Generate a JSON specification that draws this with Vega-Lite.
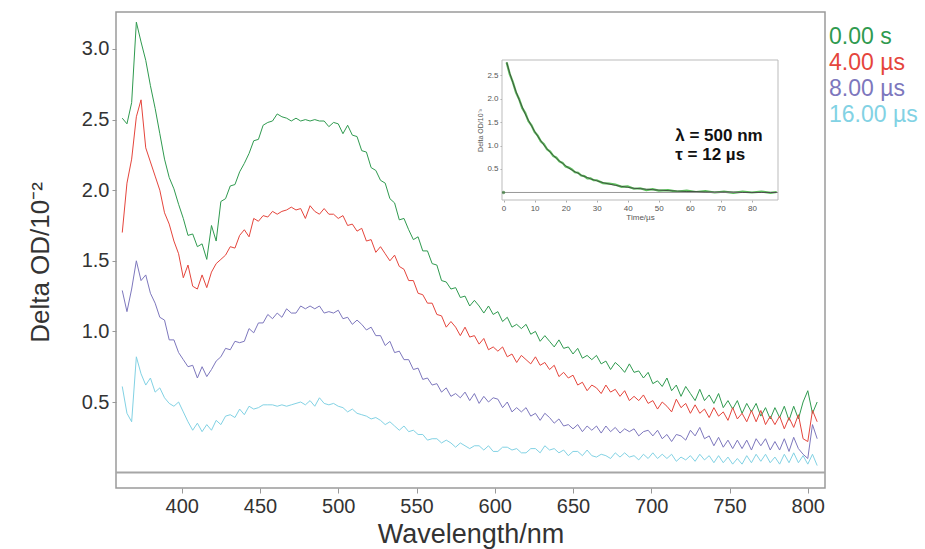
{
 "$schema": "https://vega.github.io/schema/vega-lite/v6.json",
 "width": 709, "height": 476,
 "autosize": {"type": "none"},
 "padding": {"left": 116, "top": 12, "right": 100, "bottom": 61},
 "background": "white",
 "config": {"view": {"stroke": "#9a9a9a", "strokeWidth": 1.5}, "font": "Liberation Sans"},
 "datasets": {
  "spectra": [
{"w":362,"g":2.51,"r":1.70,"p":1.29,"c":0.61},{"w":365,"g":2.47,"r":2.05,"p":1.14,"c":0.42},{"w":368,"g":2.62,"r":2.22,"p":1.30,"c":0.36},{"w":371,"g":3.19,"r":2.52,"p":1.50,"c":0.82},{"w":374,"g":3.05,"r":2.64,"p":1.36,"c":0.70},{"w":377,"g":2.92,"r":2.30,"p":1.40,"c":0.62},{"w":380,"g":2.74,"r":2.20,"p":1.27,"c":0.67},{"w":383,"g":2.58,"r":2.10,"p":1.20,"c":0.57},{"w":386,"g":2.40,"r":2.00,"p":1.10,"c":0.60},{"w":389,"g":2.22,"r":1.84,"p":1.08,"c":0.53},{"w":392,"g":2.09,"r":1.76,"p":0.94,"c":0.49},{"w":395,"g":2.01,"r":1.64,"p":0.94,"c":0.47},{"w":398,"g":1.90,"r":1.55,"p":0.85,"c":0.50},{"w":401,"g":1.80,"r":1.38,"p":0.80,"c":0.43},{"w":404,"g":1.68,"r":1.47,"p":0.75,"c":0.36},{"w":407,"g":1.69,"r":1.32,"p":0.76,"c":0.30},{"w":410,"g":1.60,"r":1.30,"p":0.67,"c":0.35},{"w":413,"g":1.62,"r":1.40,"p":0.75,"c":0.29},{"w":416,"g":1.51,"r":1.31,"p":0.68,"c":0.34},{"w":419,"g":1.75,"r":1.42,"p":0.73,"c":0.30},{"w":422,"g":1.64,"r":1.48,"p":0.79,"c":0.37},{"w":425,"g":1.92,"r":1.51,"p":0.82,"c":0.34},{"w":428,"g":1.94,"r":1.54,"p":0.88,"c":0.40},{"w":431,"g":2.03,"r":1.60,"p":0.87,"c":0.41},{"w":434,"g":2.04,"r":1.59,"p":0.93,"c":0.39},{"w":437,"g":2.13,"r":1.68,"p":0.92,"c":0.45},{"w":440,"g":2.19,"r":1.72,"p":0.93,"c":0.41},{"w":443,"g":2.26,"r":1.67,"p":1.02,"c":0.47},{"w":446,"g":2.35,"r":1.80,"p":0.99,"c":0.45},{"w":449,"g":2.36,"r":1.78,"p":1.06,"c":0.46},{"w":452,"g":2.46,"r":1.82,"p":1.06,"c":0.48},{"w":455,"g":2.48,"r":1.81,"p":1.12,"c":0.48},{"w":458,"g":2.49,"r":1.85,"p":1.09,"c":0.48},{"w":461,"g":2.54,"r":1.83,"p":1.13,"c":0.47},{"w":464,"g":2.52,"r":1.85,"p":1.10,"c":0.48},{"w":467,"g":2.51,"r":1.86,"p":1.16,"c":0.47},{"w":470,"g":2.49,"r":1.88,"p":1.13,"c":0.48},{"w":473,"g":2.51,"r":1.86,"p":1.13,"c":0.49},{"w":476,"g":2.49,"r":1.87,"p":1.18,"c":0.50},{"w":479,"g":2.50,"r":1.80,"p":1.16,"c":0.48},{"w":482,"g":2.49,"r":1.89,"p":1.18,"c":0.51},{"w":485,"g":2.50,"r":1.85,"p":1.16,"c":0.47},{"w":488,"g":2.49,"r":1.83,"p":1.18,"c":0.53},{"w":491,"g":2.49,"r":1.87,"p":1.13,"c":0.49},{"w":494,"g":2.45,"r":1.83,"p":1.14,"c":0.48},{"w":497,"g":2.48,"r":1.83,"p":1.13,"c":0.49},{"w":500,"g":2.47,"r":1.80,"p":1.15,"c":0.47},{"w":503,"g":2.40,"r":1.82,"p":1.09,"c":0.46},{"w":506,"g":2.46,"r":1.75,"p":1.10,"c":0.43},{"w":509,"g":2.39,"r":1.76,"p":1.05,"c":0.45},{"w":512,"g":2.38,"r":1.71,"p":1.08,"c":0.42},{"w":515,"g":2.28,"r":1.73,"p":1.05,"c":0.41},{"w":518,"g":2.27,"r":1.64,"p":1.01,"c":0.40},{"w":521,"g":2.16,"r":1.65,"p":1.03,"c":0.38},{"w":524,"g":2.14,"r":1.56,"p":0.97,"c":0.39},{"w":527,"g":2.07,"r":1.60,"p":0.97,"c":0.37},{"w":530,"g":2.05,"r":1.55,"p":0.90,"c":0.34},{"w":533,"g":1.94,"r":1.50,"p":0.93,"c":0.36},{"w":536,"g":1.91,"r":1.54,"p":0.85,"c":0.33},{"w":539,"g":1.79,"r":1.46,"p":0.86,"c":0.30},{"w":542,"g":1.80,"r":1.44,"p":0.80,"c":0.33},{"w":545,"g":1.72,"r":1.36,"p":0.80,"c":0.29},{"w":548,"g":1.65,"r":1.36,"p":0.73,"c":0.30},{"w":551,"g":1.67,"r":1.27,"p":0.74,"c":0.27},{"w":554,"g":1.57,"r":1.26,"p":0.66,"c":0.27},{"w":557,"g":1.57,"r":1.20,"p":0.67,"c":0.23},{"w":560,"g":1.48,"r":1.20,"p":0.62,"c":0.24},{"w":563,"g":1.47,"r":1.12,"p":0.63,"c":0.24},{"w":566,"g":1.36,"r":1.11,"p":0.57,"c":0.21},{"w":569,"g":1.35,"r":1.03,"p":0.60,"c":0.23},{"w":572,"g":1.30,"r":1.07,"p":0.54,"c":0.21},{"w":575,"g":1.31,"r":1.03,"p":0.56,"c":0.18},{"w":578,"g":1.24,"r":0.97,"p":0.53,"c":0.21},{"w":581,"g":1.25,"r":1.03,"p":0.57,"c":0.19},{"w":584,"g":1.18,"r":0.96,"p":0.51,"c":0.17},{"w":587,"g":1.22,"r":0.97,"p":0.56,"c":0.19},{"w":590,"g":1.18,"r":0.91,"p":0.49,"c":0.19},{"w":593,"g":1.13,"r":0.95,"p":0.54,"c":0.16},{"w":596,"g":1.18,"r":0.87,"p":0.50,"c":0.19},{"w":599,"g":1.12,"r":0.89,"p":0.53,"c":0.15},{"w":602,"g":1.14,"r":0.86,"p":0.52,"c":0.15},{"w":605,"g":1.07,"r":0.89,"p":0.46,"c":0.18},{"w":608,"g":1.10,"r":0.82,"p":0.50,"c":0.18},{"w":611,"g":1.03,"r":0.84,"p":0.43,"c":0.16},{"w":614,"g":1.05,"r":0.78,"p":0.46,"c":0.17},{"w":617,"g":1.02,"r":0.83,"p":0.43,"c":0.14},{"w":620,"g":1.05,"r":0.80,"p":0.46,"c":0.14},{"w":623,"g":0.98,"r":0.77,"p":0.40,"c":0.17},{"w":626,"g":1.00,"r":0.82,"p":0.42,"c":0.17},{"w":629,"g":0.93,"r":0.76,"p":0.37,"c":0.14},{"w":632,"g":0.97,"r":0.78,"p":0.42,"c":0.19},{"w":635,"g":0.93,"r":0.73,"p":0.39,"c":0.16},{"w":638,"g":0.89,"r":0.76,"p":0.35,"c":0.17},{"w":641,"g":0.94,"r":0.68,"p":0.38,"c":0.14},{"w":644,"g":0.88,"r":0.71,"p":0.33,"c":0.16},{"w":647,"g":0.89,"r":0.67,"p":0.34,"c":0.12},{"w":650,"g":0.84,"r":0.69,"p":0.31,"c":0.15},{"w":653,"g":0.88,"r":0.62,"p":0.34,"c":0.15},{"w":656,"g":0.81,"r":0.64,"p":0.29,"c":0.12},{"w":659,"g":0.83,"r":0.58,"p":0.33,"c":0.16},{"w":662,"g":0.80,"r":0.62,"p":0.30,"c":0.12},{"w":665,"g":0.83,"r":0.60,"p":0.33,"c":0.11},{"w":668,"g":0.77,"r":0.56,"p":0.28,"c":0.13},{"w":671,"g":0.79,"r":0.62,"p":0.33,"c":0.12},{"w":674,"g":0.73,"r":0.57,"p":0.29,"c":0.10},{"w":677,"g":0.78,"r":0.59,"p":0.32,"c":0.14},{"w":680,"g":0.75,"r":0.54,"p":0.28,"c":0.11},{"w":683,"g":0.71,"r":0.58,"p":0.31,"c":0.14},{"w":686,"g":0.77,"r":0.51,"p":0.29,"c":0.11},{"w":689,"g":0.71,"r":0.54,"p":0.31,"c":0.12},{"w":692,"g":0.72,"r":0.51,"p":0.26,"c":0.09},{"w":695,"g":0.67,"r":0.55,"p":0.29,"c":0.13},{"w":698,"g":0.71,"r":0.49,"p":0.30,"c":0.10},{"w":701,"g":0.63,"r":0.51,"p":0.26,"c":0.14},{"w":704,"g":0.65,"r":0.45,"p":0.30,"c":0.10},{"w":707,"g":0.61,"r":0.50,"p":0.24,"c":0.13},{"w":710,"g":0.67,"r":0.47,"p":0.27,"c":0.10},{"w":713,"g":0.58,"r":0.43,"p":0.22,"c":0.13},{"w":716,"g":0.62,"r":0.52,"p":0.27,"c":0.08},{"w":719,"g":0.54,"r":0.46,"p":0.26,"c":0.11},{"w":722,"g":0.61,"r":0.49,"p":0.23,"c":0.09},{"w":725,"g":0.56,"r":0.42,"p":0.30,"c":0.12},{"w":728,"g":0.51,"r":0.48,"p":0.26,"c":0.08},{"w":731,"g":0.59,"r":0.42,"p":0.32,"c":0.13},{"w":734,"g":0.51,"r":0.45,"p":0.24,"c":0.09},{"w":737,"g":0.55,"r":0.39,"p":0.26,"c":0.12},{"w":740,"g":0.49,"r":0.46,"p":0.19,"c":0.07},{"w":743,"g":0.56,"r":0.40,"p":0.25,"c":0.12},{"w":746,"g":0.46,"r":0.43,"p":0.18,"c":0.07},{"w":749,"g":0.51,"r":0.37,"p":0.23,"c":0.11},{"w":752,"g":0.45,"r":0.46,"p":0.17,"c":0.06},{"w":755,"g":0.51,"r":0.38,"p":0.23,"c":0.10},{"w":758,"g":0.42,"r":0.42,"p":0.17,"c":0.06},{"w":761,"g":0.49,"r":0.36,"p":0.23,"c":0.12},{"w":764,"g":0.43,"r":0.44,"p":0.16,"c":0.07},{"w":767,"g":0.49,"r":0.36,"p":0.24,"c":0.13},{"w":770,"g":0.40,"r":0.44,"p":0.19,"c":0.08},{"w":773,"g":0.46,"r":0.34,"p":0.24,"c":0.13},{"w":776,"g":0.38,"r":0.40,"p":0.16,"c":0.07},{"w":779,"g":0.46,"r":0.34,"p":0.22,"c":0.11},{"w":782,"g":0.39,"r":0.40,"p":0.16,"c":0.06},{"w":785,"g":0.47,"r":0.31,"p":0.24,"c":0.13},{"w":788,"g":0.37,"r":0.39,"p":0.15,"c":0.07},{"w":791,"g":0.47,"r":0.32,"p":0.25,"c":0.14},{"w":794,"g":0.38,"r":0.41,"p":0.17,"c":0.07},{"w":797,"g":0.50,"r":0.24,"p":0.13,"c":0.12},{"w":800,"g":0.58,"r":0.22,"p":0.10,"c":0.06},{"w":803,"g":0.42,"r":0.44,"p":0.34,"c":0.13},{"w":806,"g":0.50,"r":0.36,"p":0.24,"c":0.05}
  ],
  "decay": [
{"t":0,"m":0},{"t":1,"d":2.77,"f":2.77},{"t":2,"d":2.52,"f":2.54},{"t":3,"d":2.35,"f":2.34},{"t":4,"d":2.13,"f":2.15},{"t":5,"d":1.99,"f":1.98},{"t":6,"d":1.80,"f":1.82},{"t":7,"d":1.69,"f":1.67},{"t":8,"d":1.52,"f":1.54},{"t":9,"d":1.43,"f":1.42},{"t":10,"d":1.29,"f":1.30},{"t":11,"d":1.21,"f":1.20},{"t":12,"d":1.09,"f":1.10},{"t":13,"d":1.03,"f":1.01},{"t":14,"d":0.92,"f":0.93},{"t":15,"d":0.87,"f":0.86},{"t":16,"d":0.78,"f":0.79},{"t":17,"d":0.74,"f":0.73},{"t":18,"d":0.66,"f":0.67},{"t":19,"d":0.63,"f":0.62},{"t":20,"d":0.55,"f":0.57},{"t":21,"d":0.53,"f":0.52},{"t":22,"d":0.49,"f":0.48},{"t":23,"d":0.43,"f":0.44},{"t":24,"d":0.42,"f":0.41},{"t":25,"d":0.36,"f":0.37},{"t":26,"d":0.35,"f":0.34},{"t":27,"d":0.30,"f":0.32},{"t":28,"d":0.30,"f":0.29},{"t":29,"d":0.26,"f":0.27},{"t":30,"d":0.26,"f":0.25},{"t":32,"d":0.20,"f":0.21},{"t":34,"d":0.19,"f":0.18},{"t":36,"d":0.17,"f":0.15},{"t":38,"d":0.12,"f":0.13},{"t":40,"d":0.13,"f":0.11},{"t":42,"d":0.08,"f":0.09},{"t":44,"d":0.09,"f":0.08},{"t":46,"d":0.05,"f":0.07},{"t":48,"d":0.07,"f":0.06},{"t":50,"d":0.04,"f":0.05},{"t":53,"d":0.05,"f":0.04},{"t":56,"d":0.02,"f":0.03},{"t":59,"d":0.04,"f":0.02},{"t":62,"d":0.01,"f":0.02},{"t":65,"d":0.03,"f":0.01},{"t":68,"d":0.00,"f":0.01},{"t":71,"d":0.02,"f":0.01},{"t":74,"d":-0.01,"f":0.01},{"t":77,"d":0.02,"f":0.00},{"t":80,"d":0.00,"f":0.00},{"t":83,"d":0.02,"f":0.00},{"t":86,"d":-0.01,"f":0.00},{"t":88,"d":0.01,"f":0.00}
  ]
 },
 "layer": [
  {
   "layer": [
    {
     "data": {"name": "spectra"},
     "transform": [{"fold": ["g", "r", "p", "c"], "as": ["k", "v"]}],
     "mark": {"type": "line", "strokeWidth": 1},
     "encoding": {
      "x": {"field": "w", "type": "quantitative",
       "scale": {"domain": [358, 811], "nice": false, "zero": false},
       "axis": {"values": [400, 450, 500, 550, 600, 650, 700, 750, 800], "title": "Wavelength/nm",
        "labelFontSize": 20, "titleFontSize": 27, "titleFontWeight": "normal", "labelColor": "#333", "titleColor": "#333",
        "tickColor": "#999", "tickSize": 5, "domain": false, "grid": false, "labelPadding": 3, "titlePadding": 5, "labelFlush": false}},
      "y": {"field": "v", "type": "quantitative",
       "scale": {"domain": [-0.109, 3.262], "nice": false, "zero": false},
       "axis": {"values": [0.5, 1, 1.5, 2, 2.5, 3], "format": ".1f", "title": "Delta OD/10⁻²",
        "labelFontSize": 20, "titleFontSize": 26, "titleFontWeight": "normal", "labelColor": "#333", "titleColor": "#333",
        "tickColor": "#999", "tickSize": 4, "domain": false, "grid": false, "labelPadding": 3, "titlePadding": 28, "titleY": 250}},
      "color": {"field": "k", "type": "nominal",
       "scale": {"domain": ["g", "r", "p", "c"], "range": ["#2f9a4f", "#e5453c", "#7d77bd", "#82d2e4"]},
       "legend": {"orient": "none", "legendX": 690, "legendY": 13, "title": null, "labelFontSize": 23,
        "symbolSize": 0, "symbolOpacity": 0, "symbolStrokeWidth": 0, "labelOffset": 0, "rowPadding": 2,
        "labelExpr": "{'g': '0.00 s', 'r': '4.00 µs', 'p': '8.00 µs', 'c': '16.00 µs'}[datum.label]",
        "encode": {"labels": {"update": {"fill": {"scale": "color", "field": "value"}}}}}}
     }
    },
    {
     "data": {"values": [{}]},
     "mark": {"type": "rule", "color": "#a6a6a6", "strokeWidth": 2},
     "encoding": {"y": {"datum": 0, "type": "quantitative"}}
    }
   ]
  },
  {
   "layer": [
    {
     "data": {"values": [{}]},
     "mark": {"type": "rect", "fill": "white", "stroke": "#bbbbbb", "strokeWidth": 1},
     "encoding": {
      "x": {"datum": -0.5, "type": "quantitative"},
      "x2": {"datum": 88.4},
      "y": {"datum": -0.16, "type": "quantitative"},
      "y2": {"datum": 2.82}
     }
    },
    {
     "data": {"name": "decay"},
     "mark": {"type": "line", "color": "#5cbf5c", "strokeWidth": 2.2},
     "encoding": {
      "x": {"field": "t", "type": "quantitative",
       "scale": {"domain": [-0.5, 88.4], "range": [386, 662], "nice": false, "zero": false},
       "axis": {"orient": "bottom", "offset": -288, "values": [0, 10, 20, 30, 40, 50, 60, 70, 80], "title": "Time/µs",
        "labelFontSize": 8, "titleFontSize": 8, "titleFontWeight": "normal", "labelColor": "#555", "titleColor": "#555",
        "tickColor": "#aaa", "tickSize": 2, "domain": false, "grid": false, "labelPadding": 2, "titlePadding": 1}},
      "y": {"field": "d", "type": "quantitative",
       "scale": {"domain": [-0.16, 2.82], "range": [188, 48], "nice": false, "zero": false},
       "axis": {"orient": "left", "offset": -386, "values": [0.5, 1, 1.5, 2, 2.5], "format": ".1f", "title": "Delta OD/10⁻³",
        "labelFontSize": 8, "titleFontSize": 7, "titleFontWeight": "normal", "labelColor": "#555", "titleColor": "#555",
        "tickColor": "#aaa", "tickSize": 2, "domain": false, "grid": false, "labelPadding": 2, "titlePadding": 3}}
     }
    },
    {
     "data": {"values": [{}]},
     "mark": {"type": "rule", "color": "#999999", "strokeWidth": 1},
     "encoding": {"x": {"datum": -0.5, "type": "quantitative"}, "x2": {"datum": 88.4}, "y": {"datum": 0, "type": "quantitative"}}
    },
    {
     "data": {"name": "decay"},
     "mark": {"type": "line", "color": "#3a3a3a", "strokeWidth": 0.8},
     "encoding": {"x": {"field": "t", "type": "quantitative"}, "y": {"field": "f", "type": "quantitative"}}
    },
    {
     "data": {"name": "decay"},
     "mark": {"type": "point", "filled": true, "color": "#3a7a3a", "size": 12},
     "encoding": {"x": {"field": "t", "type": "quantitative"}, "y": {"field": "m", "type": "quantitative"}}
    },
    {
     "data": {"values": [{}]},
     "mark": {"type": "text", "align": "left", "baseline": "middle", "fontSize": 17, "fontWeight": "bold", "color": "#111"},
     "encoding": {"x": {"datum": 55.3, "type": "quantitative"}, "y": {"datum": 1.2, "type": "quantitative"}, "text": {"value": "λ = 500 nm"}}
    },
    {
     "data": {"values": [{}]},
     "mark": {"type": "text", "align": "left", "baseline": "middle", "fontSize": 17, "fontWeight": "bold", "color": "#111"},
     "encoding": {"x": {"datum": 55.3, "type": "quantitative"}, "y": {"datum": 0.8, "type": "quantitative"}, "text": {"value": "τ = 12 µs"}}
    }
   ]
  }
 ],
 "resolve": {"scale": {"x": "independent", "y": "independent"}}
}
